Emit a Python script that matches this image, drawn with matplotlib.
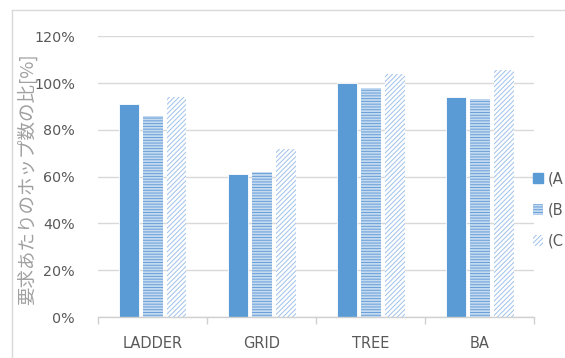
import matplotlib
matplotlib.use("Agg")
import matplotlib.pyplot as plt
from matplotlib.patches import Patch
from matplotlib.lines import Line2D
from matplotlib.ticker import FuncFormatter, FixedLocator
import numpy as np

# Data
categories = ["LADDER", "GRID", "TREE", "BA"]
series_names = ["(A", "(B", "(C"]
values_a = [91, 61, 100, 94]
values_b = [86, 62, 98, 93]
values_c = [94, 72, 104, 105.5]
y_ticks = [0, 20, 40, 60, 80, 100, 120]

plt.rcParams["font.family"] = ["DejaVu Sans"]
plt.rcParams["hatch.linewidth"] = 0.7

fig = plt.figure(figsize=(5.65, 3.58), dpi=100)
ax = fig.add_axes([0.1743, 0.1145, 0.7717, 0.7841])

x = np.arange(len(categories))
width = 0.175
styles = [
    dict(facecolor="#5b9bd5", edgecolor="#ffffff", linewidth=0.6),
    dict(facecolor="#c3daf0", edgecolor="#6a9fd8", hatch="------", linewidth=0),
    dict(facecolor="#ffffff", edgecolor="#9fc1ea", hatch="///////", linewidth=0),
]
offsets = [-0.22, 0.0, 0.22]
for vals, off, st in zip([values_a, values_b, values_c], offsets, styles):
    ax.bar(x + off, vals, width, zorder=3, **st)

ax.set_xlim(-0.5, len(categories) - 0.5)
ax.set_ylim(0, 120)
ax.set_yticks(y_ticks)
ax.yaxis.set_major_formatter(FuncFormatter(lambda v, p: f"{int(v)}%"))
ax.set_xticks(x)
ax.set_xticklabels(categories)
ax.xaxis.set_minor_locator(FixedLocator(np.arange(-0.5, len(categories), 1.0)))

ax.tick_params(axis="y", length=0, pad=17, labelsize=10.3, labelcolor="#595959")
ax.tick_params(axis="x", which="major", length=0, pad=14, labelsize=10.5,
               labelcolor="#595959")
ax.tick_params(axis="x", which="minor", length=5, width=1, color="#d0d0d0")

ax.yaxis.grid(True, color="#d9d9d9", linewidth=1, zorder=0)
ax.set_axisbelow(True)
for s in ["top", "right", "left"]:
    ax.spines[s].set_visible(False)
ax.spines["bottom"].set_color("#d0d0d0")
ax.spines["bottom"].set_linewidth(1)
ax.spines["bottom"].set_zorder(4)

# Y-axis title
fig.text(27 / 565, 1 - 179 / 358, "要求あたりのホップ数の比[%]", rotation=90,
         ha="center", va="center", fontsize=13.3, color="#a0a0a0",
         family=["Noto Sans CJK JP", "DejaVu Sans"])

# Legend
handles = [Patch(**st) for st in styles]
handles[0] = Patch(facecolor="#5b9bd5", edgecolor="#5b9bd5")
leg = fig.legend(handles, series_names, loc="center left",
                 bbox_to_anchor=(533 / 565, 1 - 210 / 358), frameon=False,
                 fontsize=10.5, labelcolor="#595959", handlelength=0.7,
                 handleheight=0.7, handletextpad=0.3, labelspacing=1.1,
                 borderpad=0, borderaxespad=0)

# Chart border
fig.add_artist(Line2D([12 / 565, 12 / 565], [0, 1 - 9.5 / 358],
                      transform=fig.transFigure, color="#d9d9d9", lw=1))
fig.add_artist(Line2D([12 / 565, 1], [1 - 9.5 / 358, 1 - 9.5 / 358],
                      transform=fig.transFigure, color="#d9d9d9", lw=1))

fig.savefig("out.png", dpi=100)
